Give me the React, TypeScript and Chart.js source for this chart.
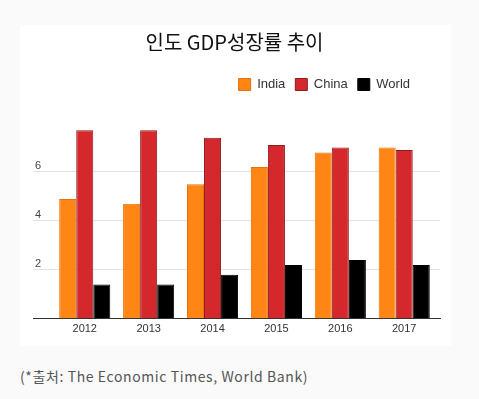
import React, { useEffect, useRef } from "react";
import { Chart, registerables } from "chart.js";

Chart.register(...registerables);

const categories = ["2012", "2013", "2014", "2015", "2016", "2017"];
const indiaValues = [4.9, 4.7, 5.5, 6.2, 6.8, 7.0];
const chinaValues = [7.7, 7.7, 7.4, 7.1, 7.0, 6.9];
const worldValues = [1.4, 1.4, 1.8, 2.2, 2.4, 2.2];
const seriesNames = ["India", "China", "World"];
const yTickValues = [2, 4, 6];
const titleText = "인도 GDP성장률 추이";
const captionText = "(*출처: The Economic Times, World Bank)";

const legendShift = {
  id: "legendShift",
  afterLayout(chart: any) {
    const lg = chart.legend;
    if (lg) {
      lg.left -= 20;
      lg.right -= 20;
    }
  },
};

export default function App() {
  const ref = useRef<HTMLCanvasElement | null>(null);

  useEffect(() => {
    if (!ref.current) return;
    const chart = new Chart(ref.current, {
      type: "bar",
      data: {
        labels: categories,
        datasets: [
          {
            label: seriesNames[0],
            data: indiaValues,
            backgroundColor: "#ff8514",
            borderColor: "#e8710a",
            borderWidth: 1,
          },
          {
            label: seriesNames[1],
            data: chinaValues,
            backgroundColor: "#d4282d",
            borderColor: "#8e1c1c",
            borderWidth: 1,
          },
          {
            label: seriesNames[2],
            data: worldValues,
            backgroundColor: "#000000",
            borderColor: "#000000",
            borderWidth: 1,
          },
        ],
      },
      plugins: [legendShift],
      options: {
        responsive: false,
        animation: false,
        layout: { padding: { left: 9, right: 11, top: 0, bottom: 6 } },
        datasets: {
          bar: { categoryPercentage: 0.8, barPercentage: 1.0 },
        },
        plugins: {
          tooltip: { enabled: false },
          title: {
            display: true,
            text: titleText,
            color: "#111111",
            font: { family: "'Noto Sans CJK KR', sans-serif", size: 20, weight: "normal" },
            padding: { top: 5, bottom: 14 },
          },
          legend: {
            display: true,
            position: "top",
            align: "end",
            labels: {
              boxWidth: 12,
              boxHeight: 12,
              padding: 10,
              color: "#333333",
              font: { family: "'Liberation Sans', Arial, sans-serif", size: 13 },
            },
          },
        },
        scales: {
          x: {
            grid: { display: false, drawTicks: false },
            border: { display: true, color: "#333333", width: 1 },
            ticks: {
              color: "#333333",
              padding: 4,
              font: { family: "'Liberation Sans', Arial, sans-serif", size: 11 },
            },
            afterBuildTicks(scale: any) {
              scale._startValue = -0.81;
              scale._valueRange = 6.37;
            },
          },
          y: {
            min: 0,
            max: 8.9,
            afterBuildTicks(scale: any) {
              scale.ticks = [0, ...yTickValues, 8.9].map((v) => ({ value: v }));
            },
            border: { display: false },
            grid: {
              drawTicks: false,
              color: (ctx: any) =>
                yTickValues.includes(ctx.tick?.value) ? "#e3e3e3" : "rgba(0,0,0,0)",
            },
            ticks: {
              mirror: true,
              padding: 2,
              labelOffset: -6,
              color: "#444444",
              font: { family: "'Liberation Sans', Arial, sans-serif", size: 11 },
              callback: (v: any) => (yTickValues.includes(Number(v)) ? String(v) : ""),
            },
          },
        },
      },
    });
    return () => chart.destroy();
  }, []);

  return (
    <div
      style={{
        position: "fixed",
        left: 0,
        top: 0,
        width: 479,
        height: 399,
        background: "#fafafa",
        overflow: "hidden",
      }}
    >
      <div
        style={{
          position: "absolute",
          left: 20,
          top: 25,
          width: 431,
          height: 321,
          background: "#ffffff",
        }}
      >
        <canvas ref={ref} width={431} height={321} style={{ display: "block" }} />
      </div>
      <div
        style={{
          position: "absolute",
          left: 20,
          top: 366,
          fontFamily: "'Noto Sans CJK KR', sans-serif",
          fontSize: 14,
          letterSpacing: "0.6px",
          color: "#555555",
          lineHeight: "20px",
          whiteSpace: "nowrap",
        }}
      >
        {captionText}
      </div>
    </div>
  );
}
